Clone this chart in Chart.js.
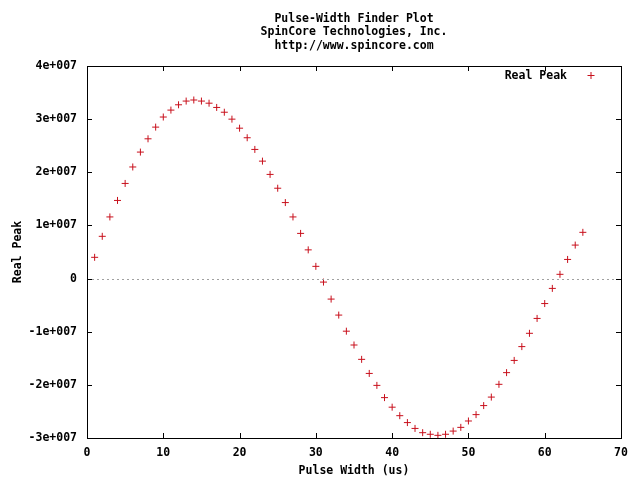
<!DOCTYPE html>
<html>
<head>
<meta charset="utf-8">
<script src="https://cdn.jsdelivr.net/npm/chart.js@4.4.0/dist/chart.umd.min.js"></script>
<style>
  html, body { margin: 0; padding: 0; background: #fff; }
  #wrap { width: 640px; height: 480px; }
</style>
</head>
<body>
<div id="wrap"><canvas id="pulseChart" width="640" height="480"></canvas></div>
<script>
// pulse width values (us)
const pulse_widths = [
    1, 2, 3, 4, 5, 6, 7, 8, 9, 10, 11, 12, 13, 14, 15, 16, 17, 18, 19, 20,
    21, 22, 23, 24, 25, 26, 27, 28, 29, 30, 31, 32, 33, 34, 35, 36, 37, 38, 39, 40,
    41, 42, 43, 44, 45, 46, 47, 48, 49, 50, 51, 52, 53, 54, 55, 56, 57, 58, 59, 60,
    61, 62, 63, 64, 65
];

// real peak
const real_peak = [
    4.0e6, 7.95e6, 1.16e7, 1.47e7, 1.79e7, 2.10e7, 2.38e7, 2.63e7, 2.85e7, 3.04e7,
    3.17e7, 3.27e7, 3.34e7, 3.36e7, 3.34e7, 3.30e7, 3.22e7, 3.13e7, 3.00e7, 2.83e7,
    2.65e7, 2.43e7, 2.21e7, 1.96e7, 1.70e7, 1.43e7, 1.16e7, 8.5e6, 5.4e6, 2.3e6,
    -6.6e5, -3.86e6, -6.87e6, -9.9e6, -1.25e7, -1.52e7, -1.785e7, -2.01e7, -2.24e7, -2.42e7,
    -2.58e7, -2.71e7, -2.82e7, -2.90e7, -2.93e7, -2.95e7, -2.93e7, -2.87e7, -2.80e7, -2.68e7,
    -2.56e7, -2.39e7, -2.23e7, -1.99e7, -1.77e7, -1.54e7, -1.28e7, -1.03e7, -7.5e6, -4.7e6,
    -1.85e6, 8.0e5, 3.6e6, 6.3e6, 8.7e6
];

const title_lines = ['Pulse-Width Finder Plot', 'SpinCore Technologies, Inc.', 'http://www.spincore.com'];
const x_ticks = [0, 10, 20, 30, 40, 50, 60, 70];
const y_ticks = [-3e7, -2e7, -1e7, 0, 1e7, 2e7, 3e7, 4e7];

const FONT = "'DejaVu Sans Mono', 'Liberation Mono', monospace";
const RED = '#c8101c';

function expLabel(v) {
    if (v === 0) return '0';
    return (v / 1e7) + 'e+007';
}

// border box, inward ticks, zero line, title and key, gnuplot style
const gnuplotFrame = {
    id: 'gnuplotFrame',
    afterDatasetsDraw(chart) {
        const ctx = chart.ctx;
        const a = chart.chartArea;
        const xs = chart.scales.x, ys = chart.scales.y;
        const tl = 5;
        ctx.save();

        // zero line
        const y0 = Math.round(ys.getPixelForValue(0)) + 0.5;
        ctx.strokeStyle = '#a0a0a0';
        ctx.lineWidth = 1;
        ctx.setLineDash([2, 3]);
        ctx.beginPath();
        ctx.moveTo(a.left, y0);
        ctx.lineTo(a.right, y0);
        ctx.stroke();
        ctx.setLineDash([]);

        ctx.strokeStyle = '#000';
        ctx.beginPath();
        x_ticks.forEach(v => {
            const px = Math.round(xs.getPixelForValue(v)) + 0.5;
            ctx.moveTo(px, a.bottom); ctx.lineTo(px, a.bottom - tl);
            ctx.moveTo(px, a.top); ctx.lineTo(px, a.top + tl);
        });
        y_ticks.forEach(v => {
            const py = Math.round(ys.getPixelForValue(v)) + 0.5;
            ctx.moveTo(a.left, py); ctx.lineTo(a.left + tl, py);
            ctx.moveTo(a.right, py); ctx.lineTo(a.right - tl, py);
        });
        ctx.stroke();
        ctx.strokeRect(Math.round(a.left) + 0.5, Math.round(a.top) + 0.5,
            Math.round(a.right - a.left), Math.round(a.bottom - a.top));

        // title
        ctx.fillStyle = '#000';
        ctx.font = 'bold 11.5px ' + FONT;
        ctx.textAlign = 'center';
        ctx.textBaseline = 'middle';
        const cx = (a.left + a.right) / 2;
        title_lines.forEach((t, i) => ctx.fillText(t, cx, 19 + i * 13.5));

        // key
        ctx.textAlign = 'right';
        ctx.fillText(chart.data.datasets[0].label, a.right - 54, a.top + 10);
        ctx.strokeStyle = RED;
        ctx.lineWidth = 1;
        Chart.helpers.drawPoint(ctx, {pointStyle: 'cross', radius: 3.5, borderWidth: 1}, a.right - 30, a.top + 9.5);
        ctx.restore();
    }
};

const ctxPulse = document.getElementById('pulseChart').getContext('2d');
const pulseChart = new Chart(ctxPulse, {
    type: 'scatter',
    data: {
        datasets: [{
            label: 'Real Peak',
            data: pulse_widths.map((w, i) => ({x: w, y: real_peak[i]})),
            pointStyle: 'cross',
            pointRadius: 3.5,
            pointHoverRadius: 3.5,
            borderColor: RED,
            backgroundColor: RED,
            borderWidth: 1
        }]
    },
    options: {
        responsive: false,
        animation: false,
        events: [],
        layout: { padding: { top: 66, right: 19, left: 0, bottom: 0 } },
        plugins: {
            legend: { display: false },
            title: { display: false },
            tooltip: { enabled: false }
        },
        scales: {
            x: {
                type: 'linear',
                min: 0,
                max: 70,
                afterFit: s => { s.height = 42; },
                afterBuildTicks: s => { s.ticks = x_ticks.map(v => ({value: v})); },
                grid: { display: false, drawTicks: false },
                border: { display: false },
                ticks: {
                    padding: 8,
                    maxRotation: 0,
                    color: '#000',
                    font: { family: FONT, size: 11.5, weight: 'bold' }
                },
                title: {
                    display: true,
                    text: 'Pulse Width (us)',
                    color: '#000',
                    padding: { top: 0, bottom: 2 },
                    font: { family: FONT, size: 11.5, weight: 'bold' }
                }
            },
            y: {
                type: 'linear',
                min: -3e7,
                max: 4e7,
                afterFit: s => { s.width = 87; },
                afterBuildTicks: s => { s.ticks = y_ticks.map(v => ({value: v})); },
                grid: { display: false, drawTicks: false },
                border: { display: false },
                ticks: {
                    padding: 10,
                    color: '#000',
                    font: { family: FONT, size: 11.5, weight: 'bold' },
                    callback: v => expLabel(v)
                },
                title: {
                    display: true,
                    text: 'Real Peak',
                    color: '#000',
                    padding: { top: 11, bottom: 0 },
                    font: { family: FONT, size: 11.5, weight: 'bold' }
                }
            }
        }
    },
    plugins: [gnuplotFrame]
});
</script>
</body>
</html>
